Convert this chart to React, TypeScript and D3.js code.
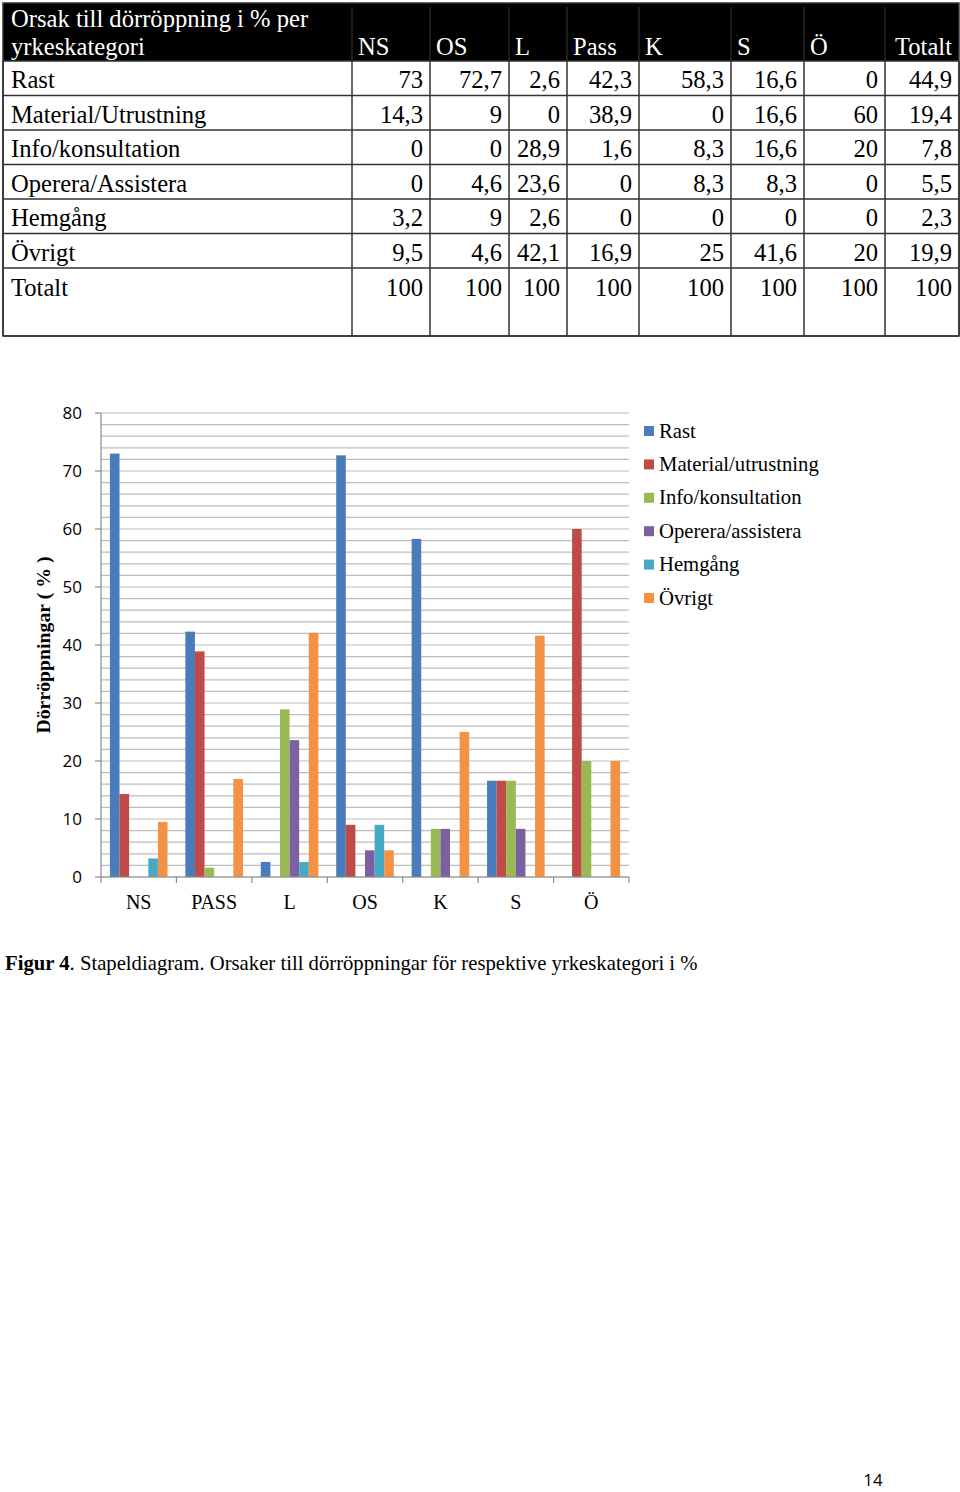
import React from "react";
import * as d3 from "d3";

// ---------- DATA ----------
const categories = ["NS", "PASS", "L", "OS", "K", "S", "Ö"];
const seriesNames = [
  "Rast",
  "Material/utrustning",
  "Info/konsultation",
  "Operera/assistera",
  "Hemgång",
  "Övrigt",
];
const seriesColors = ["#4A7BBA", "#BE4B48", "#98B954", "#7D60A0", "#46AAC5", "#F39244"];
// values per series, in chart category order NS, PASS, L, OS, K, S, Ö
const rast = [73, 42.3, 2.6, 72.7, 58.3, 16.6, 0];
const material = [14.3, 38.9, 0, 9, 0, 16.6, 60];
const info = [0, 1.6, 28.9, 0, 8.3, 16.6, 20];
const operera = [0, 0, 23.6, 4.6, 8.3, 8.3, 0];
const hemgang = [3.2, 0, 2.6, 9, 0, 0, 0];
const ovrigt = [9.5, 16.9, 42.1, 4.6, 25, 41.6, 20];
const seriesValues = [rast, material, info, operera, hemgang, ovrigt];

// table
const tableTitle = ["Orsak till dörröppning i % per", "yrkeskategori"];
const tableCols = ["NS", "OS", "L", "Pass", "K", "S", "Ö"];
const tableRowLabels = [
  "Rast",
  "Material/Utrustning",
  "Info/konsultation",
  "Operera/Assistera",
  "Hemgång",
  "Övrigt",
];
const totals = [44.9, 19.4, 7.8, 5.5, 2.3, 19.9];
const totalRowLabel = "Totalt";
const totalRowValues = [100, 100, 100, 100, 100, 100, 100, 100];

const yTicks = [0, 10, 20, 30, 40, 50, 60, 70, 80];
const yTitle = "Dörröppningar ( % )";
const captionBold = "Figur 4";
const captionRest = ". Stapeldiagram. Orsaker till dörröppningar för respektive yrkeskategori i %";
const pageNumber = "14";

// ---------- LAYOUT ----------
const serif = "'Liberation Serif', 'Times New Roman', serif";
const sans = "'Open Sans', 'Noto Sans', sans-serif";
const colEdges = [3, 352, 430, 509, 567, 639, 731, 804, 885, 959];
const headerTop = 3;
const headerBottom = 61;
const rowH = 34.5;
const tableBottom = 336;
const tfs = 24.6;

const fmt = (v: number) => String(v).replace(".", ",");

function Table() {
  const rowsTop = headerBottom;
  const nRows = tableRowLabels.length;
  const totalRowTop = rowsTop + nRows * rowH;
  const cells: React.ReactNode[] = [];
  const colValue = (r: number, c: number) => {
    const idx = categories.findIndex((k) => k.toLowerCase() === tableCols[c].toLowerCase());
    return seriesValues[r][idx];
  };
  tableRowLabels.forEach((lab, r) => {
    const yb = rowsTop + r * rowH + 27;
    cells.push(
      <text key={"l" + r} x={11} y={yb} fontFamily={serif} fontSize={tfs} fill="#000">
        {lab}
      </text>
    );
    tableCols.forEach((_, c) => {
      cells.push(
        <text key={`v${r}-${c}`} x={colEdges[c + 2] - 7} y={yb} textAnchor="end" fontFamily={serif} fontSize={tfs}>
          {fmt(colValue(r, c))}
        </text>
      );
    });
    cells.push(
      <text key={"t" + r} x={colEdges[9] - 7} y={yb} textAnchor="end" fontFamily={serif} fontSize={tfs}>
        {fmt(totals[r])}
      </text>
    );
  });
  const ybT = totalRowTop + 28;
  cells.push(
    <text key="tl" x={11} y={ybT} fontFamily={serif} fontSize={tfs}>
      {totalRowLabel}
    </text>
  );
  totalRowValues.forEach((v, c) => {
    cells.push(
      <text key={"tv" + c} x={colEdges[c + 2] - 7} y={ybT} textAnchor="end" fontFamily={serif} fontSize={tfs}>
        {fmt(v)}
      </text>
    );
  });

  const hLines = d3.range(nRows + 1).map((i) => rowsTop + i * rowH);
  return (
    <g>
      <rect x={colEdges[0]} y={headerTop} width={colEdges[9] - colEdges[0]} height={headerBottom - headerTop} fill="#000" />
      {colEdges.slice(1, 9).map((x, i) => (
        <line key={"hs" + i} x1={x} x2={x} y1={headerTop + 4} y2={headerBottom} stroke="#3a3a3a" strokeWidth={1} />
      ))}
      <text x={11} y={27} fontFamily={serif} fontSize={tfs} fill="#fff">
        {tableTitle[0]}
      </text>
      <text x={11} y={55} fontFamily={serif} fontSize={tfs} fill="#fff">
        {tableTitle[1]}
      </text>
      {tableCols.map((c, i) => (
        <text key={"hc" + i} x={colEdges[i + 1] + 6} y={55} fontFamily={serif} fontSize={tfs} fill="#fff">
          {c}
        </text>
      ))}
      <text x={colEdges[9] - 7} y={55} textAnchor="end" fontFamily={serif} fontSize={tfs} fill="#fff">
        Totalt
      </text>
      {hLines.map((y, i) => (
        <line key={"hl" + i} x1={colEdges[0]} x2={colEdges[9]} y1={y} y2={y} stroke="#333" strokeWidth={1.5} />
      ))}
      {colEdges.map((x, i) => (
        <line key={"vl" + i} x1={x} x2={x} y1={headerBottom} y2={tableBottom} stroke="#333" strokeWidth={1.5} />
      ))}
      <line x1={colEdges[0]} x2={colEdges[9]} y1={tableBottom} y2={tableBottom} stroke="#333" strokeWidth={1.5} />
      <rect x={colEdges[0]} y={headerTop} width={colEdges[9] - colEdges[0]} height={tableBottom - headerTop} fill="none" stroke="#333" strokeWidth={1.5} />
      {cells}
    </g>
  );
}

function Chart() {
  const left = 101;
  const right = 629;
  const top = 413;
  const bottom = 877;
  const y = d3.scaleLinear().domain([0, 80]).range([bottom, top]);
  const x0 = d3.scaleBand<string>().domain(categories).range([left, right]).paddingInner(0).paddingOuter(0);
  const x1 = d3
    .scaleBand<string>()
    .domain(seriesNames)
    .range([0, x0.bandwidth()])
    .paddingInner(0)
    .paddingOuter(0.93);
  const grid = d3.range(0, 81, 2);
  const boundaries = categories.map((c) => x0(c)!).concat([right]);
  return (
    <g>
      {grid.map((g) => (
        <line key={"g" + g} x1={left} x2={right} y1={y(g)} y2={y(g)} stroke="#BDBDBD" strokeWidth={1.2} />
      ))}
      {seriesNames.map((s, si) =>
        categories.map((c, ci) => {
          const v = seriesValues[si][ci];
          if (!v) return null;
          return (
            <rect
              key={`b${si}-${ci}`}
              x={x0(c)! + x1(s)!}
              y={y(v)}
              width={x1.bandwidth()}
              height={y(0) - y(v)}
              fill={seriesColors[si]}
            />
          );
        })
      )}
      <line x1={left} x2={left} y1={top} y2={bottom} stroke="#8C8C8C" strokeWidth={1.2} />
      {yTicks.map((t) => (
        <g key={"yt" + t}>
          <line x1={left - 6} x2={left} y1={y(t)} y2={y(t)} stroke="#8C8C8C" strokeWidth={1.2} />
          <text x={82} y={y(t)} dy="0.35em" textAnchor="end" fontFamily={sans} fontSize={17} fill="#000">
            {t}
          </text>
        </g>
      ))}
      <line x1={left} x2={right} y1={bottom} y2={bottom} stroke="#8C8C8C" strokeWidth={1.2} />
      {boundaries.map((b, i) => (
        <line key={"xt" + i} x1={b} x2={b} y1={bottom} y2={bottom + 6} stroke="#8C8C8C" strokeWidth={1.2} />
      ))}
      {categories.map((c) => (
        <text key={"xl" + c} x={x0(c)! + x0.bandwidth() / 2} y={909} textAnchor="middle" fontFamily={serif} fontSize={20}>
          {c}
        </text>
      ))}
      <text
        transform={`translate(50, 645) rotate(-90)`}
        textAnchor="middle"
        fontFamily={serif}
        fontWeight="bold"
        fontSize={19.8}
      >
        {yTitle}
      </text>
      {seriesNames.map((s, i) => {
        const cy = 431 + i * 33.4;
        return (
          <g key={"lg" + i}>
            <rect x={644} y={cy - 5} width={10} height={10} fill={seriesColors[i]} />
            <text x={659} y={cy} dy="0.32em" fontFamily={serif} fontSize={20.7}>
              {s}
            </text>
          </g>
        );
      })}
    </g>
  );
}

export default function App() {
  return (
    <svg
      width={960}
      height={1492}
      viewBox="0 0 960 1492"
      style={{ position: "absolute", left: 0, top: 0, background: "#fff" }}
    >
      <rect width={960} height={1492} fill="#fff" />
      <Table />
      <Chart />
      <text x={5} y={970} fontFamily={serif} fontSize={20.7}>
        <tspan fontWeight="bold">{captionBold}</tspan>
        <tspan>{captionRest}</tspan>
      </text>
      <text x={873} y={1486} textAnchor="middle" fontFamily={sans} fontSize={17}>
        {pageNumber}
      </text>
    </svg>
  );
}
